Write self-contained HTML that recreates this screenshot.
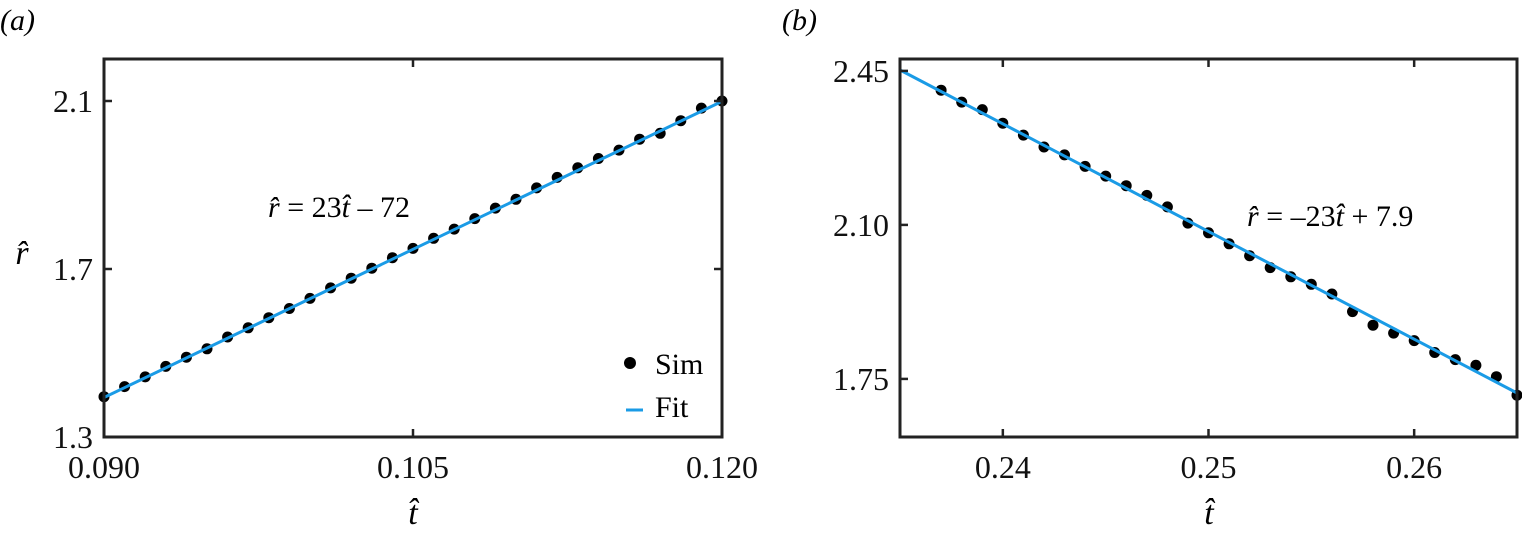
<!DOCTYPE html>
<html><head><meta charset="utf-8"><style>
html,body{margin:0;padding:0;background:#fff;}
svg{display:block;font-family:"Liberation Serif","DejaVu Serif",serif;}
text{font-family:"Liberation Serif","DejaVu Serif",serif;}
</style></head><body>
<svg width="1522" height="533" viewBox="0 0 1522 533" xmlns="http://www.w3.org/2000/svg">
<g id="pa"></g>
<g id="pb"></g>
</svg>
<script>
// Panel (a) data
const aSimX = [0.090,0.091,0.092,0.093,0.094,0.095,0.096,0.097,0.098,0.099,0.100,0.101,0.102,0.103,0.104,0.105,0.106,0.107,0.108,0.109,0.110,0.111,0.112,0.113,0.114,0.115,0.116,0.117,0.118,0.119,0.120];
const aSimY = [1.396,1.420,1.443,1.468,1.490,1.510,1.538,1.560,1.584,1.606,1.630,1.655,1.678,1.702,1.727,1.749,1.773,1.795,1.820,1.845,1.866,1.893,1.918,1.941,1.963,1.983,2.009,2.023,2.053,2.083,2.100];
const aFitX = [0.090,0.105,0.120];
const aFitY = [1.394,1.747,2.099];
const aXTicks = [0.090,0.105,0.120];
const aXTickLabels = ["0.090","0.105","0.120"];
const aYTicks = [1.3,1.7,2.1];
const aYTickLabels = ["1.3","1.7","2.1"];
// Panel (b) data
const bSimX = [0.237,0.238,0.239,0.240,0.241,0.242,0.243,0.244,0.245,0.246,0.247,0.248,0.249,0.250,0.251,0.252,0.253,0.254,0.255,0.256,0.257,0.258,0.259,0.260,0.261,0.262,0.263,0.264,0.265];
const bSimY = [2.406,2.379,2.362,2.331,2.304,2.277,2.259,2.233,2.211,2.189,2.167,2.141,2.104,2.082,2.057,2.030,2.003,1.982,1.965,1.943,1.903,1.872,1.854,1.837,1.810,1.794,1.781,1.755,1.713];
const bFitX = [0.235,0.265];
const bFitY = [2.452,1.718];
const bXTicks = [0.24,0.25,0.26];
const bXTickLabels = ["0.24","0.25","0.26"];
const bYTicks = [1.75,2.10,2.45];
const bYTickLabels = ["1.75","2.10","2.45"];

const NS = "http://www.w3.org/2000/svg";
const FONT = '"Liberation Serif","DejaVu Serif",serif';
function mk(parent, tag, attrs, text){
  const e = document.createElementNS(NS, tag);
  for (const k in attrs) e.setAttribute(k, attrs[k]);
  if (text !== undefined) e.textContent = text;
  parent.appendChild(e);
  return e;
}
const BLUE = "#1a9be6", INK = "#222";

function panel(g, cfg){
  const sx = v => cfg.L + (v - cfg.x0) / (cfg.x1 - cfg.x0) * (cfg.R - cfg.L);
  const sy = v => cfg.B - (v - cfg.y0) / (cfg.y1 - cfg.y0) * (cfg.B - cfg.T);
  let d = cfg.fitX.map((x,i)=>(i?"L":"M")+sx(x).toFixed(1)+","+sy(cfg.fitY[i]).toFixed(1)).join(" ");
  cfg.simX.forEach((x,i)=>{
    const c = mk(g,"ellipse",{cx:sx(x).toFixed(1),cy:sy(cfg.simY[i]).toFixed(1),rx:5.5,ry:5.5,fill:"#000"});
    
    
  });
  const fl = mk(g,"path",{d:d,fill:"none",stroke:BLUE,"stroke-width":3});
  
  
  const fr = mk(g,"rect",{x:cfg.L,y:cfg.T,width:cfg.R-cfg.L,height:cfg.B-cfg.T,fill:"none",stroke:INK,"stroke-width":3});
  
  
  cfg.xt.forEach((v,i)=>{
    const x = sx(v);
    mk(g,"line",{x1:x,y1:cfg.B,x2:x,y2:cfg.B-8,stroke:INK,"stroke-width":2.5});
    mk(g,"line",{x1:x,y1:cfg.T,x2:x,y2:cfg.T+8,stroke:INK,"stroke-width":2.5});
    const t = mk(g,"text",{x:x,y:478,"text-anchor":"middle","font-size":32,"font-family":FONT,fill:"#111"},cfg.xtl[i]);
    
    
  });
  cfg.yt.forEach((v,i)=>{
    const y = sy(v);
    mk(g,"line",{x1:cfg.L,y1:y,x2:cfg.L+8,y2:y,stroke:INK,"stroke-width":2.5});
    if (cfg.rightTicks) mk(g,"line",{x1:cfg.R,y1:y,x2:cfg.R-8,y2:y,stroke:INK,"stroke-width":2.5});
    const t = mk(g,"text",{x:cfg.L-11,y:y+11,"text-anchor":"end","font-size":32,"font-family":FONT,fill:"#111"},cfg.ytl[i]);
    
    
  });
}
const pa = document.getElementById("pa"), pb = document.getElementById("pb");
panel(pa,{L:104,R:722,T:59,B:437,x0:0.090,x1:0.120,y0:1.3,y1:2.2,simX:aSimX,simY:aSimY,fitX:aFitX,fitY:aFitY,xt:aXTicks,xtl:aXTickLabels,yt:aYTicks,ytl:aYTickLabels,rightTicks:true});
panel(pb,{L:900,R:1517,T:59,B:437,x0:0.235,x1:0.265,y0:1.618,y1:2.477,simX:bSimX,simY:bSimY,fitX:bFitX,fitY:bFitY,xt:bXTicks,xtl:bXTickLabels,yt:bYTicks,ytl:bYTickLabels,rightTicks:false});
</script>
<svg style="position:absolute;left:0;top:0" width="1522" height="533" xmlns="http://www.w3.org/2000/svg">
  <text x="0" y="30" font-size="30" font-style="italic" style="font-family:'Liberation Serif','DejaVu Serif',serif">(a)</text>
  <text x="782" y="30" font-size="30" font-style="italic" style="font-family:'Liberation Serif','DejaVu Serif',serif">(b)</text>
  <text x="413" y="524" font-size="34" font-style="italic" text-anchor="middle" style="font-family:'Liberation Serif','DejaVu Serif',serif">t̂</text>
  <text x="1209" y="524" font-size="34" font-style="italic" text-anchor="middle" style="font-family:'Liberation Serif','DejaVu Serif',serif">t̂</text>
  <text x="22" y="264" font-size="34" font-style="italic" text-anchor="middle" style="font-family:'Liberation Serif','DejaVu Serif',serif">r̂</text>
  <text x="268" y="217" font-size="30" style="font-family:'Liberation Serif','DejaVu Serif',serif"><tspan font-style="italic">r̂</tspan> = 23<tspan font-style="italic">t̂</tspan> – 72</text>
  <text x="1247" y="226" font-size="30" style="font-family:'Liberation Serif','DejaVu Serif',serif"><tspan font-style="italic">r̂</tspan> = –23<tspan font-style="italic">t̂</tspan> + 7.9</text>
  <g>
    <circle cx="630" cy="363" r="6" fill="#000"/>
    <text x="655" y="374" font-size="30" style="font-family:'Liberation Serif','DejaVu Serif',serif">Sim</text>
    <line x1="626" y1="410" x2="643" y2="410" stroke="#1a9be6" stroke-width="3"/>
    <text x="655" y="417" font-size="30" style="font-family:'Liberation Serif','DejaVu Serif',serif">Fit</text>
  </g>
</svg>
</body></html>
